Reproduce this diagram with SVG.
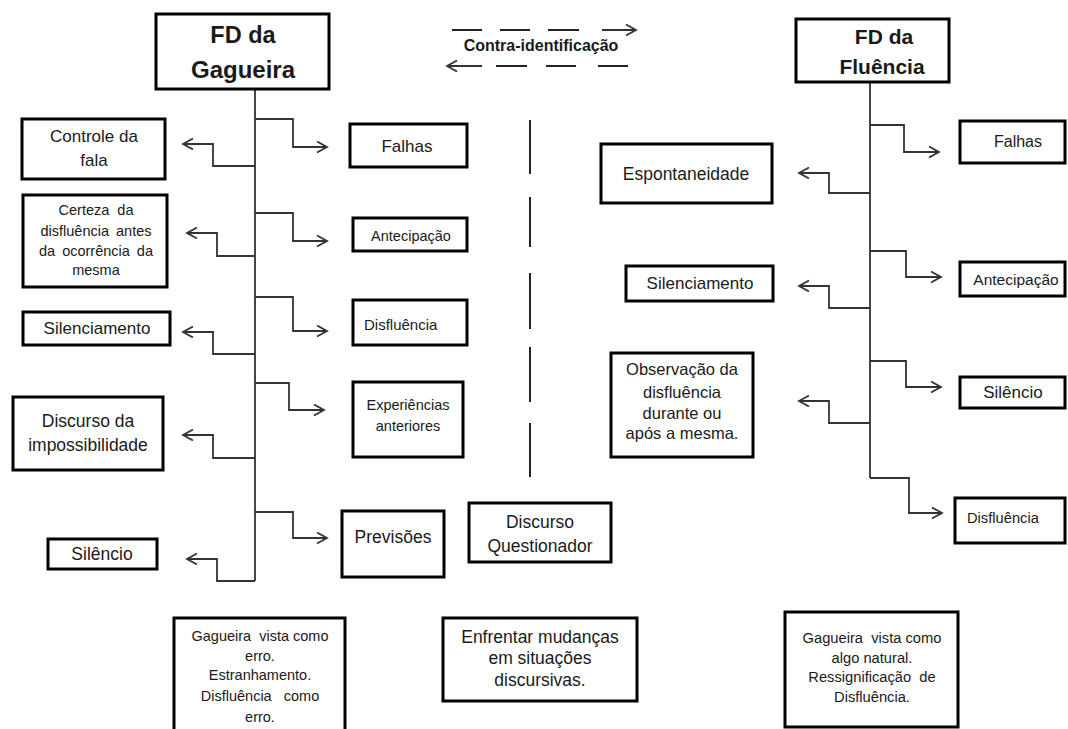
<svg xmlns="http://www.w3.org/2000/svg" width="1068" height="729" viewBox="0 0 1068 729">
<style>
.box{fill:#fff;stroke:#000;stroke-width:3}
.t{font-family:"Liberation Sans",Arial,sans-serif;fill:#1a1a1a;text-anchor:middle}
.b{font-weight:bold}
.c{fill:none;stroke:#333;stroke-width:1.8}
.d{fill:none;stroke:#222;stroke-width:2}
</style>
<defs>
<marker id="ah" markerUnits="userSpaceOnUse" markerWidth="14" markerHeight="14" refX="11" refY="6" orient="auto">
<path d="M1,0.5 L11,6 L1,11.5" fill="none" stroke="#333" stroke-width="1.8"/>
</marker>
</defs>
<rect width="1068" height="729" fill="#fff"/>

<g id="connectors">
<path class="c" d="M255,89 V581"/>
<path class="c" d="M255,119 H293 V147 H327" marker-end="url(#ah)"/>
<path class="c" d="M255,166 H213 V144 H183" marker-end="url(#ah)"/>
<path class="c" d="M255,213 H293 V241 H327" marker-end="url(#ah)"/>
<path class="c" d="M255,256 H217 V233 H187" marker-end="url(#ah)"/>
<path class="c" d="M255,297 H293 V331 H327" marker-end="url(#ah)"/>
<path class="c" d="M255,354 H213 V332 H183" marker-end="url(#ah)"/>
<path class="c" d="M255,383 H289 V410 H324" marker-end="url(#ah)"/>
<path class="c" d="M255,458 H213 V435 H183" marker-end="url(#ah)"/>
<path class="c" d="M255,512 H293 V538 H327" marker-end="url(#ah)"/>
<path class="c" d="M255,581 H217 V559 H187" marker-end="url(#ah)"/>

<path class="c" d="M870,82 V478"/>
<path class="c" d="M870,125 H904 V152 H939" marker-end="url(#ah)"/>
<path class="c" d="M870,193 H829 V173 H799" marker-end="url(#ah)"/>
<path class="c" d="M870,251 H906 V277 H941" marker-end="url(#ah)"/>
<path class="c" d="M870,308 H829 V286 H799" marker-end="url(#ah)"/>
<path class="c" d="M870,361 H906 V387 H941" marker-end="url(#ah)"/>
<path class="c" d="M870,423 H829 V401 H799" marker-end="url(#ah)"/>
<path class="c" d="M870,478 H909 V513 H942" marker-end="url(#ah)"/>

<g id="contra-identificacao-arrows">
<path class="d" d="M452,30 H482 M500,30 H530 M548,30 H579"/>
<path class="c" d="M602,30 H636" marker-end="url(#ah)"/>
<path class="c" d="M482,66 H447" marker-end="url(#ah)"/>
<path class="d" d="M496,66 H527 M546,66 H576 M598,66 H628"/>
</g>
<path class="d" d="M530,120 V174 M530,197 V247 M530,273 V329 M530,347 V402 M530,423 V477"/>
</g>

<g id="label-contra"><text class="t b" x="541" y="51" font-size="16">Contra-identificação</text></g>

<g id="fd-gagueira">
<rect class="box" x="156" y="14" width="173" height="75"/>
<text class="t b" x="243" y="43" font-size="23.5">FD da</text>
<text class="t b" x="243" y="78" font-size="24">Gagueira</text>
</g>

<g id="controle-fala">
<rect class="box" x="22" y="119" width="143" height="60"/>
<text class="t" x="94" y="142" font-size="17">Controle da</text>
<text class="t" x="94" y="166" font-size="17">fala</text>
</g>

<g id="certeza">
<rect class="box" x="23" y="195" width="144" height="92"/>
<text class="t" x="96" y="215" font-size="14.5" word-spacing="4">Certeza da</text>
<text class="t" x="96" y="236" font-size="14.5" word-spacing="3">disfluência antes</text>
<text class="t" x="96" y="256" font-size="14.5" word-spacing="3">da ocorrência da</text>
<text class="t" x="96" y="275" font-size="14.5">mesma</text>
</g>

<g id="silenciamento-l">
<rect class="box" x="23" y="312" width="147" height="33"/>
<text class="t" x="97" y="334" font-size="17">Silenciamento</text>
</g>

<g id="discurso-impossibilidade">
<rect class="box" x="13" y="397" width="150" height="73"/>
<text class="t" x="88" y="427" font-size="17.5">Discurso da</text>
<text class="t" x="88" y="451" font-size="17.5">impossibilidade</text>
</g>

<g id="silencio-l">
<rect class="box" x="48" y="539" width="109" height="30"/>
<text class="t" x="102" y="560" font-size="17.5">Silêncio</text>
</g>

<g id="falhas-l">
<rect class="box" x="350" y="124" width="117" height="43"/>
<text class="t" x="407" y="152" font-size="17">Falhas</text>
</g>

<g id="antecipacao-l">
<rect class="box" x="353" y="218" width="114" height="33"/>
<text class="t" x="411" y="241" font-size="14.5">Antecipação</text>
</g>

<g id="disfluencia-l">
<rect class="box" x="353" y="300" width="114" height="45"/>
<text class="t" x="364" y="330" font-size="15" text-anchor="start" style="text-anchor:start">Disfluência</text>
</g>

<g id="experiencias">
<rect class="box" x="353" y="382" width="110" height="75"/>
<text class="t" x="408" y="410" font-size="14.5">Experiências</text>
<text class="t" x="408" y="431" font-size="14.5">anteriores</text>
</g>

<g id="previsoes">
<rect class="box" x="342" y="511" width="102" height="66"/>
<text class="t" x="393" y="543" font-size="17.5">Previsões</text>
</g>

<g id="discurso-questionador">
<rect class="box" x="469" y="503" width="142" height="59"/>
<text class="t" x="540" y="528" font-size="17.5">Discurso</text>
<text class="t" x="540" y="552" font-size="17.5">Questionador</text>
</g>

<g id="fd-fluencia">
<rect class="box" x="796" y="19" width="153" height="63"/>
<text class="t b" x="884" y="44" font-size="21">FD da</text>
<text class="t b" x="882" y="74" font-size="21">Fluência</text>
</g>

<g id="espontaneidade">
<rect class="box" x="601" y="144" width="171" height="59"/>
<text class="t" x="686" y="180" font-size="17.5">Espontaneidade</text>
</g>

<g id="silenciamento-r">
<rect class="box" x="626" y="266" width="147" height="35"/>
<text class="t" x="700" y="289" font-size="17">Silenciamento</text>
</g>

<g id="observacao">
<rect class="box" x="611" y="353" width="142" height="104"/>
<text class="t" x="682" y="375" font-size="16.5">Observação da</text>
<text class="t" x="682" y="398" font-size="16.5">disfluência</text>
<text class="t" x="682" y="419" font-size="16.5">durante ou</text>
<text class="t" x="682" y="439" font-size="16.5">após a mesma.</text>
</g>

<g id="falhas-r">
<rect class="box" x="960" y="121" width="105" height="42"/>
<text class="t" x="1018" y="147" font-size="16">Falhas</text>
</g>

<g id="antecipacao-r">
<rect class="box" x="960" y="262" width="105" height="34"/>
<text class="t" x="1016" y="285" font-size="15.5">Antecipação</text>
</g>

<g id="silencio-r">
<rect class="box" x="960" y="377" width="105" height="31"/>
<text class="t" x="1013" y="398" font-size="17">Silêncio</text>
</g>

<g id="disfluencia-r">
<rect class="box" x="955" y="498" width="110" height="45"/>
<text class="t" x="967" y="523" font-size="14.7" style="text-anchor:start">Disfluência</text>
</g>

<g id="gagueira-erro">
<rect class="box" x="174" y="618" width="171" height="130"/>
<text class="t" x="260" y="641" font-size="14.5" xml:space="preserve">Gagueira  vista como</text>
<text class="t" x="260" y="661" font-size="14.5">erro.</text>
<text class="t" x="260" y="680" font-size="14.5">Estranhamento.</text>
<text class="t" x="260" y="701" font-size="14.5" xml:space="preserve">Disfluência   como</text>
<text class="t" x="260" y="722" font-size="14.5">erro.</text>
</g>

<g id="enfrentar">
<rect class="box" x="443" y="618" width="194" height="83"/>
<text class="t" x="540" y="643" font-size="17.5">Enfrentar mudanças</text>
<text class="t" x="540" y="664" font-size="17.5">em situações</text>
<text class="t" x="540" y="686" font-size="17.5">discursivas.</text>
</g>

<g id="gagueira-natural">
<rect class="box" x="785" y="612" width="173" height="115"/>
<text class="t" x="872" y="643" font-size="14.7" xml:space="preserve">Gagueira  vista como</text>
<text class="t" x="872" y="663" font-size="14.7">algo natural.</text>
<text class="t" x="872" y="682" font-size="14.7" xml:space="preserve">Ressignificação  de</text>
<text class="t" x="872" y="702" font-size="14.7">Disfluência.</text>
</g>
</svg>
